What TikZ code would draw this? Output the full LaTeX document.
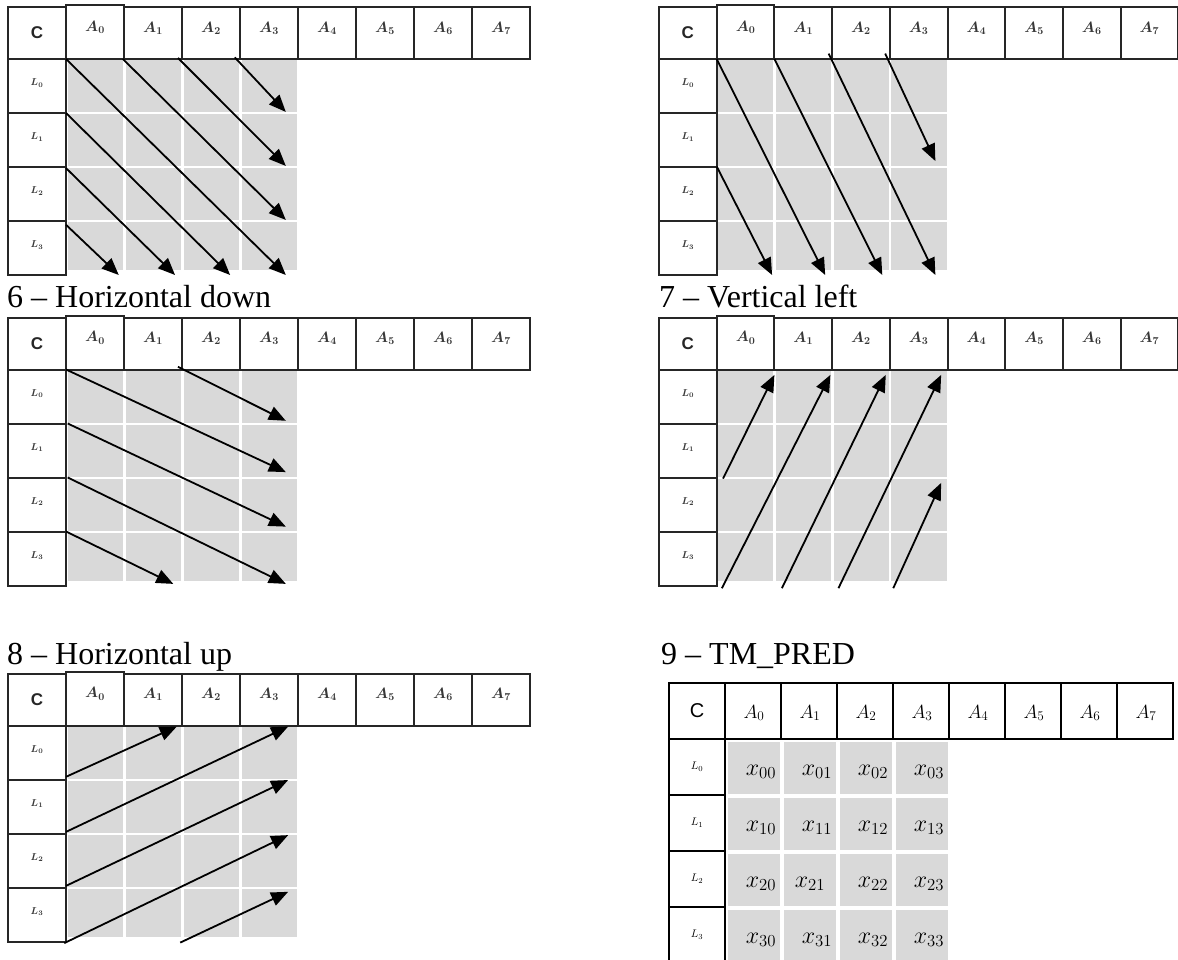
\RequirePackage{fix-cm}
\documentclass[tikz,border=0pt]{standalone}
\usepackage{fontspec}
\setmainfont{Liberation Serif}
\setsansfont{Liberation Sans}
\usetikzlibrary{arrows.meta}
\definecolor{cellgray}{HTML}{D9D9D9}
\definecolor{bordc}{HTML}{262626}
\tikzset{
  cbox/.style={draw=bordc, line width=2pt, inner sep=0pt, outer sep=0pt, anchor=north west},
  tbox/.style={draw=black, line width=2.4pt, inner sep=0pt, outer sep=0pt, anchor=north west,
               minimum width=56pt, minimum height=56pt},
  clab/.style={inner sep=0pt, font=\sffamily\bfseries\fontsize{17}{19}\selectfont, text=black!85},
  alab/.style={inner sep=0pt, font=\boldmath\fontsize{15}{17}\selectfont, text=black!78},
  llab/.style={inner sep=0pt, font=\boldmath\fontsize{10}{11}\selectfont, text=black!78},
  tclab/.style={inner sep=0pt, font=\sffamily\fontsize{20}{22}\selectfont},
  talab/.style={inner sep=0pt, font=\fontsize{19}{22}\selectfont},
  tllab/.style={inner sep=0pt, font=\fontsize{11}{13}\selectfont},
  xlab/.style={inner sep=0pt, font=\fontsize{24}{26}\selectfont},
  ttl/.style={inner sep=0pt, anchor=base west, font=\fontsize{32}{38}\selectfont},
  arr/.style={line width=1.8pt, -{Triangle[length=17pt,width=14pt]}},
}
% #1 id, #2 x left, #3 y top, #4 cell width
\newcommand{\drawpanel}[4]{%
  \begin{scope}[shift={(#2,#3)}]
    \foreach \r in {0,...,3}{
      \foreach \c in {0,...,3}{
        \pgfmathsetmacro{\gx}{#4*(\c+1)+1.5}
        \pgfmathsetmacro{\gX}{#4*(\c+2)-1}
        \pgfmathsetmacro{\gy}{52+54*\r+1.5}
        \pgfmathsetmacro{\gY}{min(52+54*(\r+1)-1,263)}
        \fill[cellgray] (\gx,\gy) rectangle (\gX,\gY);
      }
    }
    \node[cbox, minimum width=#4pt, minimum height=52pt] (#1C) at (0,0) {};
    \node[clab] (#1Ct) at (#1C.center) {C};
    \foreach \i in {0,...,7}{
      \ifnum\i=0
        \node[cbox, minimum width=#4pt, minimum height=53.5pt] (#1A\i) at ({#4*(\i+1)},-1.5) {};
      \else
        \node[cbox, minimum width=#4pt, minimum height=52pt] (#1A\i) at ({#4*(\i+1)},0) {};
      \fi
      \node[alab] (#1A\i-t) at ([yshift=5pt]#1A\i.center) {$A_{\i}$};
    }
    \foreach \j in {0,...,3}{
      \node[cbox, minimum width=#4pt, minimum height=54pt] (#1L\j) at (0,{52+54*\j}) {};
      \node[llab] (#1L\j-t) at ([yshift=3pt]#1L\j.center) {$L_{\j}$};
    }
  \end{scope}
}
% arrow: #1 name, start (#2,#3), end (#4,#5)
\newcommand{\arrw}[5]{%
  \coordinate (#1-s) at (#2,#3);
  \coordinate (#1-e) at (#4,#5);
  \draw[arr] (#1-s) -- (#1-e);
}
\begin{document}
\begin{tikzpicture}[x=1pt,y=-1pt]
\useasboundingbox (0,0) rectangle (1178,960);
\fill[white] (0,0) rectangle (1178,960);

\drawpanel{pa}{8}{7}{58}
\drawpanel{pb}{659}{7}{57.7}
\drawpanel{pc}{8}{317.5}{58}
\drawpanel{pd}{659}{317.5}{57.7}
\drawpanel{pe}{8}{673.5}{58}

% titles
\node[ttl] (t6) at (7,307) {6 – Horizontal down};
\node[ttl] (t7) at (659,307) {7 – Vertical left};
\node[ttl] (t8) at (7,664) {8 – Horizontal up};
\node[ttl] (t9) at (661,664) {9 – TM\_PRED};

% panel a arrows
\begin{scope}[shift={(66,59)},x=58pt,y=-54pt]
  \arrw{pa1}{2.91}{-0.03}{3.79}{0.98}
  \arrw{pa2}{1.93}{-0.02}{3.79}{1.98}
  \arrw{pa3}{0.98}{0}{3.79}{2.98}
  \arrw{pa4}{0}{0}{3.79}{4.0}
  \arrw{pa5}{0}{1.0}{2.83}{4.0}
  \arrw{pa6}{0}{2.02}{1.88}{4.0}
  \arrw{pa7}{0}{3.07}{0.91}{4.0}
\end{scope}

% panel b arrows
\begin{scope}[shift={(716.7,59)},x=57.7pt,y=-54pt]
  \arrw{pb1}{2.92}{-0.1}{3.79}{1.89}
  \arrw{pb2}{1.94}{-0.1}{3.79}{4.0}
  \arrw{pb3}{1.0}{0}{2.87}{4.0}
  \arrw{pb4}{0}{0}{1.88}{4.0}
  \arrw{pb5}{0}{1.99}{0.96}{4.0}
\end{scope}

% panel c arrows (horizontal down)
\begin{scope}[shift={(66,369.5)},x=58pt,y=-54pt]
  \arrw{pc1}{1.93}{-0.05}{3.79}{0.95}
  \arrw{pc2}{0}{0}{3.79}{1.9}
  \arrw{pc3}{0.03}{1.0}{3.79}{2.91}
  \arrw{pc4}{0.03}{2.0}{3.79}{3.97}
  \arrw{pc5}{0}{3.0}{1.85}{3.97}
\end{scope}

% panel d arrows (vertical left)
\begin{scope}[shift={(716.7,369.5)},x=57.7pt,y=-54pt]
  \arrw{pd1}{0.11}{2.02}{1.0}{0.1}
  \arrw{pd2}{0.09}{4.05}{1.97}{0.1}
  \arrw{pd3}{1.13}{4.05}{2.93}{0.1}
  \arrw{pd4}{2.11}{4.05}{3.89}{0.1}
  \arrw{pd5}{3.06}{4.05}{3.89}{2.1}
\end{scope}

% panel e arrows (horizontal up)
\begin{scope}[shift={(66,725.5)},x=58pt,y=-54pt]
  \arrw{pe1}{0}{0.95}{1.91}{0.02}
  \arrw{pe2}{0}{1.97}{3.83}{0.02}
  \arrw{pe3}{0}{2.97}{3.83}{1.01}
  \arrw{pe4}{-0.03}{4.03}{3.83}{2.03}
  \arrw{pe5}{1.97}{4.02}{3.83}{3.08}
\end{scope}

% TM_PRED panel
\begin{scope}[shift={(669,683)}]
  \foreach \r in {0,...,3}{
    \foreach \c in {0,...,3}{
      \fill[cellgray] ({56*(\c+1)+3},{56+56*\r+3}) rectangle ({56*(\c+2)-1},{56+56*(\r+1)-1});
    }
  }
  \node[tbox] (tC) at (0,0) {};
  \node[tclab] (tC-t) at (tC.center) {C};
  \foreach \i in {0,...,7}{
    \node[tbox] (tA\i) at ({56*(\i+1)},0) {};
    \node[talab] (tA\i-t) at ([xshift=1pt,yshift=-2pt]tA\i.center) {$A_{\i}$};
  }
  \foreach \j in {0,...,3}{
    \node[tbox] (tL\j) at (0,{56+56*\j}) {};
    \node[tllab] (tL\j-t) at (tL\j.center) {$L_{\j}$};
  }
  \foreach \r in {0,...,3}{
    \foreach \c in {0,...,3}{
      \ifnum\r=2 \ifnum\c=1
        \node[xlab] (x\r\c) at ({56*(\c+1)+29},{56+56*\r+33}) {$x_{\r\c}$};
      \else
        \node[xlab] (x\r\c) at ({56*(\c+1)+36},{56+56*\r+33}) {$x_{\r\c}$};
      \fi
      \else
        \node[xlab] (x\r\c) at ({56*(\c+1)+36},{56+56*\r+33}) {$x_{\r\c}$};
      \fi
    }
  }
\end{scope}
\end{tikzpicture}
\end{document}
